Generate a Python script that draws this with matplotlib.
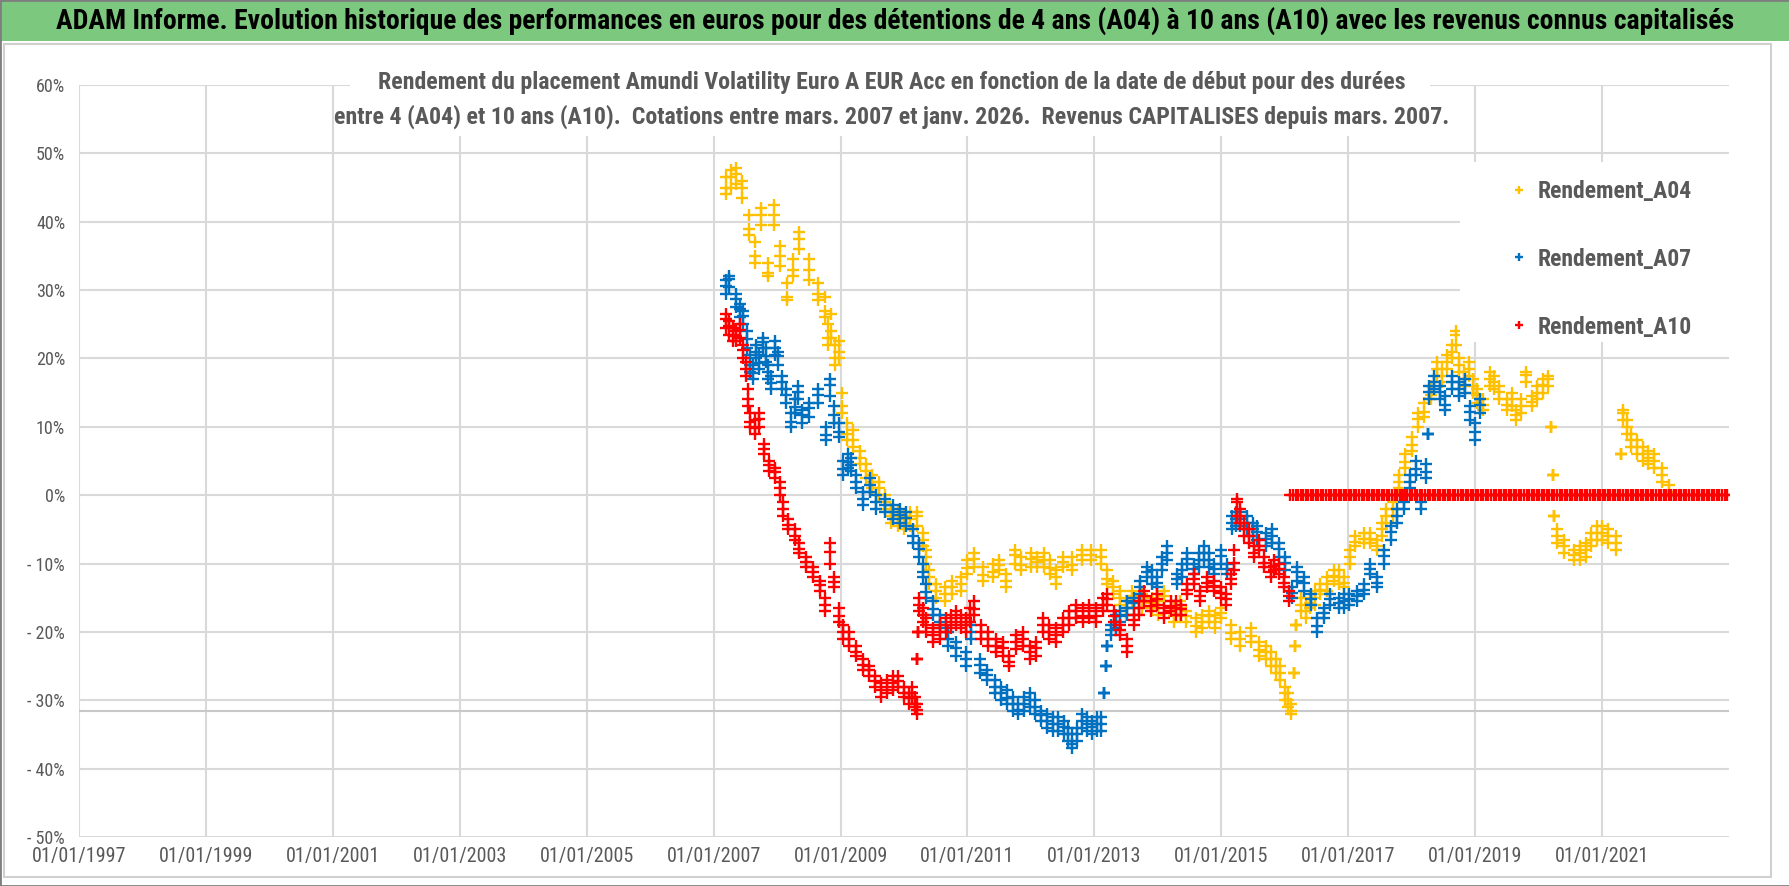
import matplotlib
matplotlib.use('Agg')
import matplotlib.pyplot as plt
from matplotlib import font_manager
from matplotlib.patches import Rectangle
from matplotlib.ticker import FuncFormatter

installed = {f.name for f in font_manager.fontManager.ttflist}
NARROW = next((n for n in ['Liberation Sans Narrow', 'Roboto Condensed',
                           'Open Sans Condensed', 'DejaVu Sans'] if n in installed),
              'DejaVu Sans')
plt.rcParams['font.family'] = [NARROW, 'DejaVu Sans']

# ---- data (decimal years, % return) ----
# each series: centre of the point cloud plus its lower / upper edge
a04_year = [2007.20, 2007.28, 2007.35, 2007.45, 2007.55, 2007.65, 2007.75, 2007.85, 2007.95,
            2008.05, 2008.15, 2008.25, 2008.35, 2008.50, 2008.65, 2008.75, 2008.80, 2008.85,
            2008.92, 2008.97, 2009.02, 2009.10, 2009.20, 2009.30, 2009.40, 2009.50, 2009.60,
            2009.70, 2009.80, 2009.90, 2010.00, 2010.10, 2010.20, 2010.30, 2010.35, 2010.40,
            2010.50, 2010.65, 2010.75, 2010.90, 2011.00, 2011.10, 2011.25, 2011.40, 2011.50,
            2011.60, 2011.75, 2011.85, 2012.00, 2012.10, 2012.20, 2012.30, 2012.40, 2012.50,
            2012.65, 2012.80, 2012.95, 2013.10, 2013.20, 2013.30, 2013.40, 2013.50, 2013.60,
            2013.75, 2013.90, 2014.00, 2014.10, 2014.25, 2014.35, 2014.45, 2014.60, 2014.70,
            2014.80, 2014.90, 2015.00, 2015.15, 2015.30, 2015.46, 2015.60, 2015.70, 2015.78,
            2015.86, 2015.93, 2016.00, 2016.05, 2016.10, 2016.15, 2016.16, 2016.17, 2016.25,
            2016.33, 2016.40, 2016.48, 2016.56, 2016.66, 2016.77, 2016.85, 2016.93, 2017.02,
            2017.10, 2017.25, 2017.35, 2017.45, 2017.53, 2017.60, 2017.70, 2017.80, 2017.90,
            2018.00, 2018.10, 2018.20, 2018.30, 2018.40, 2018.48, 2018.55, 2018.63, 2018.70,
            2018.75, 2018.82, 2018.90, 2018.97, 2019.03, 2019.13, 2019.24, 2019.30, 2019.37,
            2019.50, 2019.58, 2019.65, 2019.72, 2019.80, 2019.90, 2019.98, 2020.07, 2020.15,
            2020.20, 2020.22, 2020.25, 2020.29, 2020.40, 2020.56, 2020.65, 2020.74, 2020.83,
            2020.92, 2021.00, 2021.10, 2021.22, 2021.28, 2021.30, 2021.33, 2021.40, 2021.46,
            2021.55, 2021.64, 2021.73, 2021.82, 2021.95, 2022.05]
a04_val = [45, 46.5, 47, 45, 39, 35, 41, 32.5, 41,
           35, 29, 33, 37.5, 33, 29.5, 27, 23, 24,
           20, 21, 13, 9, 8, 5.4, 3.5, 2, 1,
           -1, -3, -3.5, -4, -3.5, -3, -6.5, -9, -12,
           -14, -14.5, -13.5, -13, -10.7, -9.3, -11.7, -11.2, -10.2,
           -12.5, -8.8, -10.2, -9.3, -9.8, -9.5, -10.7, -12, -9.8,
           -10.2, -8.8, -8.8, -9, -12.2, -13.5, -15, -16.5, -14.7,
           -15.6, -15.7, -16.5, -14.7, -17.7, -16.5, -17.7, -19.2, -18.5,
           -17.7, -18.5, -17.2, -20.1, -21.1, -20.6, -22.6, -23, -24,
           -25, -26, -29, -30, -31.5, -26, -22, -19, -16,
           -17, -15.7, -15, -13.8, -13, -11.8, -12, -12.8, -9,
           -6.9, -6.4, -6.4, -7.4, -5, -3, -2, 1.9, 4.9,
           7.3, 11.2, 12.2, 14.7, 18.5, 17.5, 19.5, 21, 23.4,
           19, 17, 18.5, 16, 14.6, 13.2, 17, 16.5, 15.1,
           13.2, 14, 11.7, 13, 17.6, 13.7, 15, 16.1, 17,
           10, 3, -3, -6, -7.5, -8.7, -8.5, -8, -6.5,
           -5.5, -5.5, -6, -7, 0, 6, 12, 10, 8,
           7, 6, 5.5, 5, 3, 0.5]
a04_lo = [44, 45, 45.5, 43.5, 38, 34, 39.5, 32, 39.5,
          33.5, 28.5, 32, 36, 31.5, 28.5, 26, 22, 23,
          19, 20, 12, 8, 7, 4.5, 2.5, 1, 0,
          -2, -4, -4.5, -5, -4.5, -4.5, -7.5, -10, -13,
          -15, -15.5, -14.5, -14, -11.5, -10.5, -12.5, -12, -11,
          -13.5, -10, -11, -10.5, -10.5, -10.5, -11.5, -13, -10.5,
          -11, -9.5, -9.5, -10, -13, -14.5, -16, -17.5, -15.5,
          -16.5, -16.5, -17.5, -15.5, -18.5, -17.5, -18.5, -20, -19.5,
          -18.5, -19.5, -18, -21, -22, -21.5, -23.5, -24, -25,
          -26, -27, -30, -31, -32, -26, -22, -19, -17,
          -18, -16.5, -16, -14.5, -14, -12.5, -13, -13.5, -10,
          -7.5, -7, -7, -8, -6, -4, -3, 1, 4,
          6.5, 10, 11.5, 14, 17.5, 16.5, 18.5, 20, 22,
          18, 16, 17.5, 15, 13.5, 12.5, 16, 15.5, 14,
          12.5, 13, 11, 12, 16.5, 13, 14, 15, 16,
          10, 3, -3, -7, -8.5, -9.5, -9.5, -9, -7.5,
          -6.5, -6.5, -7, -8, 0, 6, 11, 9, 7,
          6, 5, 4.5, 4, 2, 0]
a04_hi = [46.5, 47.5, 47.8, 46, 41, 37, 42, 34, 42.5,
          36.5, 31, 34.5, 38.5, 34.5, 31, 29, 25, 26.5,
          22, 22.5, 15, 10.5, 9.5, 6.5, 4.5, 3, 2,
          0, -2, -2.5, -3, -2.5, -2.5, -5.5, -8, -11,
          -13, -13.5, -12.5, -12, -9.5, -8.5, -10.5, -10, -9.5,
          -11.5, -8, -9, -8.5, -9, -8.5, -9.5, -11, -9,
          -9, -8, -8, -8, -11, -12.5, -14, -15.5, -14,
          -14.5, -15, -15.5, -14, -16.5, -15.5, -17, -18, -17.5,
          -17, -17.5, -16.5, -19, -20, -19.5, -21.5, -22, -23,
          -24, -25, -28, -29, -30.5, -26, -22, -19, -15,
          -16, -15, -14, -13, -12, -11, -11, -12, -8,
          -6, -5.5, -5.5, -6.5, -4, -2, -1, 3, 6,
          8.5, 12, 13.5, 16, 19.5, 18.5, 20.5, 22, 24,
          20, 18, 19.5, 17, 15.5, 14, 18, 17.5, 16,
          14, 15, 12.5, 14, 18, 14.5, 16, 17, 17.5,
          10, 3, -3, -5, -6.5, -8, -7.5, -7, -5.5,
          -4.5, -4.5, -5, -6, 0, 6, 12.5, 11, 9,
          8, 7, 6.5, 6, 4, 1.5]

a07_year = [2007.20, 2007.25, 2007.36, 2007.41, 2007.46, 2007.52, 2007.57, 2007.62, 2007.67,
            2007.72, 2007.78, 2007.82, 2007.86, 2007.91, 2007.96, 2008.02, 2008.07, 2008.14,
            2008.22, 2008.28, 2008.33, 2008.40, 2008.51, 2008.64, 2008.77, 2008.83, 2008.90,
            2008.98, 2009.04, 2009.12, 2009.17, 2009.25, 2009.35, 2009.46, 2009.56, 2009.70,
            2009.82, 2009.93, 2010.03, 2010.14, 2010.24, 2010.30, 2010.35, 2010.45, 2010.56,
            2010.69, 2010.82, 2010.98, 2011.06, 2011.19, 2011.30, 2011.44, 2011.53, 2011.62,
            2011.71, 2011.80, 2011.89, 2011.98, 2012.07, 2012.16, 2012.25, 2012.34, 2012.43,
            2012.52, 2012.58, 2012.65, 2012.72, 2012.80, 2012.88, 2012.97, 2013.04, 2013.10,
            2013.15, 2013.18, 2013.20, 2013.26, 2013.34, 2013.41, 2013.52, 2013.62, 2013.72,
            2013.83, 2013.91, 2013.99, 2014.07, 2014.15, 2014.30, 2014.38, 2014.46, 2014.57,
            2014.65, 2014.73, 2014.80, 2014.88, 2014.99, 2015.09, 2015.17, 2015.23, 2015.30,
            2015.41, 2015.50, 2015.57, 2015.70, 2015.80, 2015.91, 2016.01, 2016.12, 2016.20,
            2016.30, 2016.41, 2016.51, 2016.62, 2016.72, 2016.85, 2016.93, 2017.01, 2017.14,
            2017.25, 2017.35, 2017.46, 2017.56, 2017.67, 2017.77, 2017.88, 2017.98, 2018.06,
            2018.14, 2018.22, 2018.25, 2018.27, 2018.35, 2018.45, 2018.53, 2018.63, 2018.74,
            2018.84, 2018.92, 2019.00, 2019.08]
a07_val = [30.6, 31.6, 28.7, 27.2, 26.2, 22.8, 19, 17.8, 21,
           19.3, 22.4, 20.3, 18, 16.4, 21.5, 20.3, 16.6, 14.6,
           10.7, 12.9, 15.1, 11.7, 12.7, 14.6, 8.8, 16.1, 11.7,
           9.3, 3.9, 4.9, 4.4, 2, -0.5, 1.5, -1, -1.5,
           -2.4, -2.9, -3.4, -5.9, -7.8, -11.2, -14.1, -16.6, -18.5,
           -21, -22.4, -23.9, -20, -24.9, -26.3, -28, -29, -29.6,
           -30.5, -31.4, -30.5, -30, -31, -32.2, -33, -33.4, -33.5,
           -33.9, -35, -36.4, -35, -33, -33.5, -33.9, -33.5, -33.4,
           -29, -25, -22, -19.7, -18.5, -17.7, -16.5, -15.7, -13.5,
           -11.3, -12, -12.8, -10, -8.4, -12.3, -11, -9.4, -10.8,
           -9.5, -8.4, -9.5, -10.8, -8.9, -10.8, -4, -3.5, -3.5,
           -4, -5, -5.4, -6.4, -5.9, -7.9, -9.9, -14.3, -11.3,
           -12.8, -15.2, -19.2, -17.2, -15.2, -15.7, -15.5, -15.2, -14.8,
           -13.8, -10.8, -12.8, -8.9, -5.4, -3, -1, 1.9, 3.9,
           -1, 3.4, 9, 15.1, 16.6, 15.1, 13.2, 16.6, 15.6,
           16.1, 12.2, 9.3, 13.2]
a07_lo = [29.5, 30.5, 27.5, 26, 25, 21.5, 18, 17, 20,
          18.5, 21.5, 19.5, 17, 15.5, 20.5, 19, 15.5, 13.5,
          10, 12, 14, 10.5, 11.5, 13.5, 8, 14.5, 10.5,
          8.5, 3, 4, 3.5, 1, -1.5, 0.5, -2, -2.5,
          -3.5, -4, -4.5, -7, -9, -12, -15, -17.5, -19.5,
          -22, -23.5, -25, -21, -26, -27, -29, -30, -30.5,
          -31.5, -32, -31.5, -31, -32, -33, -34, -34.5, -34.5,
          -35, -36, -37, -36, -34, -34.5, -35, -34.5, -34.5,
          -29, -25, -22, -20.5, -19.5, -18.5, -17.5, -16.5, -14.5,
          -12, -13, -13.5, -11, -9.5, -13, -12, -10, -11.5,
          -10.5, -9.5, -10.5, -11.5, -10, -11.5, -5, -4.5, -4.5,
          -5, -6, -6.5, -7.5, -7, -9, -11, -15, -12.5,
          -14, -16, -20, -18, -16, -16.5, -16.5, -16, -15.5,
          -14.5, -11.5, -13.5, -10, -6.5, -4, -2, 1, 3,
          -2, 2.5, 9, 14, 15.5, 14, 12.5, 15.5, 14.5,
          15, 11, 8, 12]
a07_hi = [31.5, 32, 29.5, 28, 27, 24, 20.5, 19, 22,
          20.5, 23, 21.5, 19, 17.5, 22.5, 21, 17.5, 15.5,
          12, 14, 16, 12.5, 13.5, 15.5, 10, 17, 13,
          10.5, 5, 6, 5.5, 3, 0.5, 2.5, 0, -0.5,
          -1.5, -2, -2.5, -5, -7, -10, -13, -15.5, -17.5,
          -20, -21.5, -23, -19, -24, -25.5, -27, -28, -28.5,
          -29.5, -30.5, -29.5, -29, -30, -31.5, -32, -32.5, -32.5,
          -33, -34, -35, -34, -32, -32.5, -33, -32.5, -32.5,
          -29, -25, -22, -19, -17.5, -17, -15.5, -15, -12.5,
          -10.5, -11, -12, -9, -7.5, -11.5, -10, -8.5, -10,
          -8.5, -7.5, -8.5, -10, -8, -10, -3, -2.5, -2.5,
          -3, -4, -4.5, -5.5, -5, -7, -9, -13.5, -10.5,
          -12, -14.5, -18, -16.5, -14.5, -15, -14.5, -14.5, -14,
          -13, -10, -12, -8, -4.5, -2, 0, 3, 5,
          0, 4.5, 9, 16, 17.5, 16, 14.5, 17.5, 16.5,
          17, 13, 10.5, 14]

a10_year = [2007.20, 2007.25, 2007.30, 2007.36, 2007.41, 2007.46, 2007.51, 2007.54, 2007.57,
            2007.65, 2007.72, 2007.80, 2007.88, 2007.96, 2008.04, 2008.09, 2008.17, 2008.28,
            2008.35, 2008.46, 2008.56, 2008.67, 2008.75, 2008.83, 2008.90, 2008.98, 2009.04,
            2009.14, 2009.25, 2009.35, 2009.45, 2009.55, 2009.64, 2009.73, 2009.82, 2009.90,
            2010.00, 2010.08, 2010.12, 2010.18, 2010.20, 2010.21, 2010.22, 2010.24, 2010.30,
            2010.35, 2010.45, 2010.56, 2010.66, 2010.74, 2010.82, 2010.90, 2010.98, 2011.04,
            2011.11, 2011.22, 2011.32, 2011.45, 2011.56, 2011.66, 2011.77, 2011.87, 2011.98,
            2012.08, 2012.19, 2012.29, 2012.40, 2012.50, 2012.60, 2012.71, 2012.82, 2012.92,
            2013.03, 2013.13, 2013.20, 2013.31, 2013.41, 2013.52, 2013.62, 2013.70, 2013.78,
            2013.89, 2013.99, 2014.10, 2014.20, 2014.28, 2014.36, 2014.46, 2014.57, 2014.67,
            2014.78, 2014.88, 2014.99, 2015.07, 2015.15, 2015.20, 2015.25, 2015.30, 2015.36,
            2015.44, 2015.51, 2015.59, 2015.67, 2015.78, 2015.83, 2015.91, 2015.99, 2016.07]
a10_val = [25.7, 24.7, 23.4, 23.3, 24.2, 21.3, 18.5, 14.1, 10.7,
           9.8, 11.2, 6.8, 4.4, 3.4, 1, -2, -4.4, -5.9,
           -7.8, -9.8, -11.2, -13.2, -16.1, -8.3, -12.7, -17.6, -20,
           -21, -22.9, -24.9, -25.5, -27.2, -28.5, -28, -27.5, -27.2,
           -28.9, -29.7, -28.9, -30.5, -31.4, -24, -20, -16.1, -17.5,
           -19, -20.5, -20, -19, -18.5, -18, -18.5, -19, -17.5,
           -16.6, -20, -21, -22, -22.4, -24.4, -21.5, -21, -22.9,
           -22.4, -19, -20, -20.5, -19, -18, -17, -17.6, -17,
           -17.6, -16.1, -15.2, -17.7, -19.7, -22.1, -18.2, -16.5, -14.8,
           -16.2, -15.2, -17.2, -16.2, -16.5, -16.7, -13.8, -12.3, -14.8,
           -12.8, -13.3, -14.3, -15.2, -12.3, -9.9, -1, -3, -5,
           -5.9, -8.4, -7.4, -9.9, -11.3, -10.3, -10.8, -12.8, -14.8]
a10_lo = [24.5, 23.5, 22.5, 22.5, 23, 20, 17.5, 13, 10,
          9, 10, 6, 3.5, 2.5, 0, -3, -5, -6.5,
          -8.5, -10.5, -12, -14, -17, -10, -13.5, -18.5, -21,
          -22, -23.5, -25.5, -26.5, -28, -29.5, -29, -28.5, -28,
          -29.5, -30.5, -29.5, -31, -32, -24, -20, -17, -18.5,
          -20, -21.5, -21, -20, -19.5, -19, -19.5, -20, -18.5,
          -17.5, -21, -22, -23, -23.5, -25, -22.5, -22, -24,
          -23.5, -20, -21, -21.5, -20, -19, -18, -18.5, -18,
          -18.5, -17, -16, -18.5, -20.5, -23, -19, -17.5, -15.5,
          -17, -16, -18, -17, -17.5, -17.5, -14.5, -13, -15.5,
          -13.5, -14, -15, -16, -13, -11, -3, -4, -6,
          -7, -9, -8, -10.5, -12, -11, -11.5, -13.5, -15.5]
a10_hi = [26.5, 25.5, 24.5, 24, 25, 22, 19.5, 15.5, 12,
          11, 12, 7.5, 5, 4, 2, -1, -3.5, -5,
          -7, -9, -10.5, -12.5, -15, -7, -12, -16.5, -19,
          -20, -22, -24, -25, -26.5, -27.5, -27, -26.5, -26.5,
          -28, -29, -28, -29.5, -30.5, -24, -20, -15, -16.5,
          -18, -19.5, -19, -18, -17.5, -17, -17.5, -18, -16.5,
          -15.5, -19, -20, -21, -21.5, -23.5, -20.5, -20, -22,
          -21.5, -18, -19, -19.5, -18, -17, -16, -16.5, -16,
          -16.5, -15, -14.5, -17, -19, -21, -17.5, -15.5, -14,
          -15.5, -14.5, -16.5, -15.5, -15.5, -16, -13, -11.5, -14,
          -12, -12.5, -13.5, -14.5, -11.5, -8, -0.5, -2, -4,
          -5, -7.5, -6.5, -9, -10.5, -9.5, -10, -12, -14]

# start dates without a full 10-year window are shown at 0 %
a10_zero_year = [2016.09 + 0.04 * i for i in range(173)]
a10_zero_val = [0] * len(a10_zero_year)

min_line = -31.5

xticks = list(range(1997, 2023, 2))
xtick_labels = [f'01/01/{y}' for y in xticks]
yticks = list(range(-50, 61, 10))

TITLE = ('ADAM Informe. Evolution historique des performances en euros pour des détentions '
         'de 4 ans (A04) à 10 ans (A10) avec les revenus connus capitalisés')
SUBTITLE = ('Rendement du placement Amundi Volatility Euro A EUR Acc en fonction de la date de début pour des durées\n'
            'entre 4 (A04) et 10 ans (A10).  Cotations entre mars. 2007 et janv. 2026.  Revenus CAPITALISES depuis mars. 2007.')

YELLOW = '#FFC000'
BLUE = '#0070C0'
RED = '#FF0000'
GRID = '#D9D9D9'
TXT = '#595959'

W, H = 1790, 886
fig = plt.figure(figsize=(W / 100, H / 100), dpi=100)
fig.patch.set_facecolor('white')

def fx(px):
    return px / W

def fy(py):
    return 1 - py / H

# title band and frames
fig.add_artist(Rectangle((0, fy(41)), 1, fy(0) - fy(41), transform=fig.transFigure,
                         facecolor='#7DC87F', edgecolor='none', zorder=0))
fig.add_artist(Rectangle((fx(4), fy(877)), fx(1771) - fx(4), fy(44) - fy(877),
                         transform=fig.transFigure, facecolor='none',
                         edgecolor='#D0D0D0', linewidth=1.5, zorder=0))
fig.add_artist(Rectangle((0, 0), 1, 1, transform=fig.transFigure, facecolor='none',
                         edgecolor='#7F7F7F', linewidth=2, zorder=5))
fig.text(0.5, fy(21), TITLE, ha='center', va='center', fontsize=20,
         fontweight='bold', color='black')

ax = fig.add_axes([fx(79), fy(837), fx(1729) - fx(79), fy(85) - fy(837)])
ax.set_xlim(1997, 2023)
ax.set_ylim(-50, 60)
ax.set_xticks(xticks)
ax.set_xticklabels(xtick_labels)
ax.set_yticks(yticks)
ax.yaxis.set_major_formatter(FuncFormatter(
    lambda v, p: f'{int(round(v))}%' if v >= 0 else f'- {int(round(-v))}%'))
ax.grid(True, color=GRID, linewidth=1.5)
ax.set_axisbelow(True)
for s in ax.spines.values():
    s.set_visible(False)
ax.tick_params(length=0, colors=TXT)
ax.tick_params(axis='y', labelsize=13, pad=10)
ax.tick_params(axis='x', labelsize=14.5, pad=7)
ax.axhline(min_line, color='#C8C8C8', linewidth=1.5, zorder=1)

kw = dict(linestyle='none', marker='+', markersize=9, markeredgewidth=1.7, zorder=3)
series = [
    ('Rendement_A04', YELLOW, a04_year, [a04_lo, a04_val, a04_hi]),
    ('Rendement_A07', BLUE, a07_year, [a07_lo, a07_val, a07_hi]),
    ('Rendement_A10', RED, a10_year, [a10_lo, a10_val, a10_hi]),
]
for name, col, yrs, layers in series:
    for i, vals in enumerate(layers):
        ax.plot(yrs, vals, color=col, label=name if i == 1 else None, **kw)
ax.plot(a10_zero_year, a10_zero_val, color=RED, **kw)

# subtitle with white box hiding the grid
fig.add_artist(Rectangle((fx(350), fy(136)), fx(1430) - fx(350), fy(62) - fy(136),
                         transform=fig.transFigure, facecolor='white',
                         edgecolor='none', zorder=2))
fig.text(fx(892), fy(100), SUBTITLE, ha='center', va='center', fontsize=17.2,
         fontweight='bold', color=TXT, linespacing=1.55, zorder=3)

# legend
fig.add_artist(Rectangle((fx(1460), fy(342)), fx(1735) - fx(1460), fy(162) - fy(342),
                         transform=fig.transFigure, facecolor='white',
                         edgecolor='none', zorder=2))
leg = fig.legend(loc='upper left', bbox_to_anchor=(fx(1500), fy(168)),
                 frameon=False, fontsize=17, markerscale=0.6, handlelength=0.6,
                 handletextpad=0.5, labelspacing=1.9, borderpad=0)
for t in leg.get_texts():
    t.set_color(TXT)
    t.set_fontweight('bold')
leg.set_zorder(4)

fig.savefig('out.png', dpi=100)
